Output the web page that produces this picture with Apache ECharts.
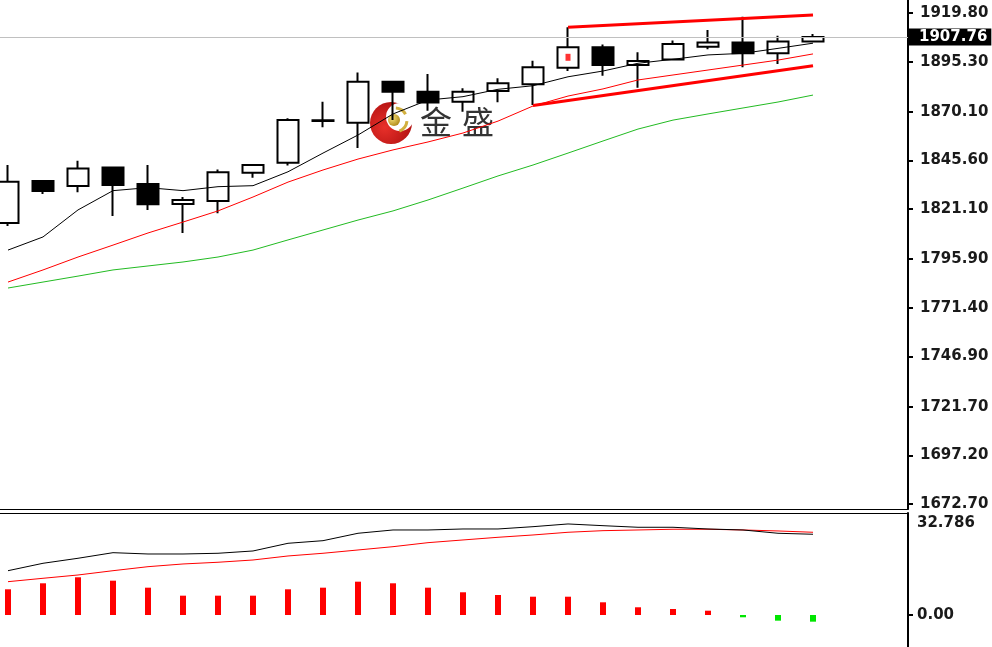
<!DOCTYPE html>
<html><head><meta charset="utf-8">
<script src="https://cdn.jsdelivr.net/npm/echarts@6.0.0/dist/echarts.min.js"></script>
<style>html,body{margin:0;padding:0;background:#fff}#c{width:992px;height:647px}</style>
</head><body><div id="c"></div>
<script>
// ---- data ----
const candleOpen  = [1814.1,1835.3,1832.7,1842.0,1833.7,1823.7,1825.2,1839.4,1844.5,1865.4,1864.6,1885.2,1880.2,1875.2,1880.5,1883.9,1892.3,1902.5,1893.6,1896.4,1902.8,1904.9,1899.5,1905.4];
const candleClose = [1834.9,1830.2,1841.6,1833.2,1823.5,1825.7,1839.6,1843.3,1865.9,1865.8,1885.2,1880.2,1874.7,1880.2,1884.4,1892.5,1902.5,1893.6,1895.6,1904.2,1904.9,1899.5,1905.4,1907.76];
const candleLow   = [1812.6,1828.7,1829.6,1817.6,1820.7,1809.1,1819.0,1836.9,1843.0,1862.3,1851.9,1865.9,1870.6,1870.1,1874.9,1873.5,1890.6,1888.2,1882.2,1896.0,1901.5,1892.5,1894.1,1905.3];
const candleHigh  = [1843.3,1835.5,1845.5,1842.2,1843.3,1827.2,1841.1,1843.5,1866.8,1875.2,1889.8,1885.4,1889.1,1881.9,1886.9,1895.8,1912.6,1904.0,1900.0,1905.9,1911.2,1917.9,1908.4,1909.2];
const maFast = [1800.5,1807.1,1820.7,1830.4,1831.9,1830.4,1832.4,1832.9,1839.9,1849.3,1858.4,1869.0,1876.0,1877.7,1881.4,1883.2,1887.7,1890.6,1894.5,1896.5,1898.7,1899.5,1902.0,1904.6];
const maMid  = [1784.4,1790.5,1797.0,1803.0,1809.1,1814.6,1820.2,1827.2,1834.7,1840.8,1846.3,1850.9,1854.9,1859.4,1865.4,1873.0,1878.0,1881.6,1886.1,1888.6,1891.1,1893.6,1896.1,1899.2];
const maSlow = [1781.4,1784.4,1787.4,1790.5,1792.5,1794.5,1797.0,1800.5,1805.6,1810.6,1815.6,1820.2,1825.7,1831.7,1837.8,1843.3,1849.3,1855.4,1861.4,1865.9,1869.0,1872.0,1875.0,1878.5];
const trendUpper = [[16,1912.6],[23,1918.8]];
const trendLower = [[15,1873.2],[23,1893.3]];
const markerPoints = [[16,1897.5]];
const priceTicks = [1919.8,1895.3,1870.1,1845.6,1821.1,1795.9,1771.4,1746.9,1721.7,1697.2,1672.7];
const macdHist = [8.26,10.19,12.12,11.03,8.78,6.21,6.21,6.21,8.26,8.78,10.71,10.19,8.78,7.30,6.43,5.88,5.88,4.08,2.48,1.93,1.38,-0.74,-1.83,-2.15];
const macdDif  = [14.24,16.62,18.23,20.03,19.61,19.61,19.84,20.58,23.05,23.89,26.27,27.33,27.33,27.65,27.65,28.39,29.26,28.71,28.20,28.20,27.65,27.33,26.27,25.95];
const macdDea  = [10.71,11.80,12.86,14.24,15.53,16.40,16.95,17.68,18.97,19.84,20.90,21.96,23.25,24.12,24.98,25.72,26.59,27.11,27.33,27.56,27.56,27.33,27.01,26.59];
const macdTicks = [0, 32.786];
const lastPrice = candleClose[candleClose.length - 1];

// ---- build ----
const idx = candleOpen.map((_, i) => i);
const candleData = idx.map(i => [i, candleOpen[i], candleClose[i], candleLow[i], candleHigh[i]]);
const pair = arr => arr.map((v, i) => [i, v]);

const chart = echarts.init(document.getElementById('c'), null, {renderer: 'canvas'});
const xCommon = {type: 'value', min: -0.2286, max: 25.714,
  axisLine: {show: true, onZero: false, lineStyle: {color: '#000', width: 1}},
  axisTick: {show: false}, axisLabel: {show: false}, splitLine: {show: false}};
const labelFont = {fontFamily: 'DejaVu Sans', fontWeight: 'bold', fontSize: 15, color: '#1a1a1a'};

chart.setOption({
  animation: false,
  backgroundColor: '#ffffff',
  grid: [
    {left: 0, top: 0, width: 908, height: 509},
    {left: 0, top: 513, width: 908, height: 134}
  ],
  xAxis: [
    Object.assign({}, xCommon, {gridIndex: 0, position: 'bottom'}),
    Object.assign({}, xCommon, {gridIndex: 1, position: 'top'})
  ],
  yAxis: [
    {type: 'value', gridIndex: 0, position: 'right', min: 1670.2, max: 1926.34,
     axisLine: {show: true, onZero: false, lineStyle: {color: '#000', width: 2}},
     axisTick: {show: true, length: 5, customValues: priceTicks, lineStyle: {color: '#000', width: 2}},
     axisLabel: Object.assign({customValues: priceTicks, margin: 12, formatter: v => Number(v).toFixed(2)}, labelFont),
     splitLine: {show: false}},
    {type: 'value', gridIndex: 1, position: 'right', min: -10.29, max: 32.786,
     axisLine: {show: true, onZero: false, lineStyle: {color: '#000', width: 2}},
     axisTick: {show: true, length: 5, customValues: [0], lineStyle: {color: '#000', width: 2}},
     axisLabel: Object.assign({customValues: macdTicks, margin: 9, lineHeight: 20,
       formatter: v => (Number(v) === 0 ? '0.00' : '\n' + Number(v).toFixed(3))}, labelFont),
     splitLine: {show: false}}
  ],
  graphic: [
    {type: 'circle', shape: {cx: 391, cy: 123, r: 21}, z: 0,
     style: {fill: new echarts.graphic.RadialGradient(0.35, 0.6, 0.8, [{offset: 0, color: '#e8302a'}, {offset: 1, color: '#a80c0c'}])}},
    {type: 'circle', shape: {cx: 400, cy: 117, r: 14}, z: 0, style: {fill: '#ffffff'}},
    {type: 'arc', shape: {cx: 395, cy: 120, r: 12, startAngle: -1.5, endAngle: -0.5}, z: 0, style: {stroke: '#d2b040', lineWidth: 3, fill: null}},
    {type: 'arc', shape: {cx: 395, cy: 120, r: 12, startAngle: 0.1, endAngle: 1.2}, z: 0, style: {stroke: '#d2b040', lineWidth: 3, fill: null}},
    {type: 'circle', shape: {cx: 394, cy: 120, r: 6}, z: 0,
     style: {fill: new echarts.graphic.RadialGradient(0.35, 0.35, 0.7, [{offset: 0, color: '#f6e27a'}, {offset: 1, color: '#b08a1a'}])}},
    {type: 'text', left: 420, top: 106, z: 0, style: {text: '金', font: '32px "Noto Sans CJK SC"', fill: '#333333'}},
    {type: 'text', left: 462, top: 106, z: 0, style: {text: '盛', font: '32px "Noto Sans CJK SC"', fill: '#333333'}}
  ],
  series: [
    {type: 'candlestick', xAxisIndex: 0, yAxisIndex: 0, data: candleData, barWidth: 21,
     itemStyle: {color: '#ffffff', color0: '#000000', borderColor: '#000000', borderColor0: '#000000', borderWidth: 2},
     markLine: {silent: true, symbol: ['none', 'none'], animation: false,
       lineStyle: {color: '#c0c0c0', width: 1, type: 'solid'},
       label: Object.assign({show: true, position: 'end', distance: 1, formatter: lastPrice.toFixed(2),
         backgroundColor: '#000000', padding: [1, 4, 1, 10]}, labelFont, {color: '#ffffff'}),
       data: [{yAxis: lastPrice}]}},
    {type: 'scatter', xAxisIndex: 0, yAxisIndex: 0, data: markerPoints, symbol: 'rect', symbolSize: [5, 7],
     itemStyle: {color: '#ff0000'}, z: 4},
    {type: 'line', xAxisIndex: 0, yAxisIndex: 0, data: pair(maSlow), showSymbol: false, lineStyle: {color: '#22bb22', width: 1}},
    {type: 'line', xAxisIndex: 0, yAxisIndex: 0, data: pair(maMid), showSymbol: false, lineStyle: {color: '#ff0000', width: 1}},
    {type: 'line', xAxisIndex: 0, yAxisIndex: 0, data: pair(maFast), showSymbol: false, lineStyle: {color: '#000000', width: 1}},
    {type: 'line', xAxisIndex: 0, yAxisIndex: 0, data: trendUpper, showSymbol: false, lineStyle: {color: '#ff0000', width: 3}},
    {type: 'line', xAxisIndex: 0, yAxisIndex: 0, data: trendLower, showSymbol: false, lineStyle: {color: '#ff0000', width: 3}},
    {type: 'bar', xAxisIndex: 1, yAxisIndex: 1, data: pair(macdHist), barWidth: 6,
     itemStyle: {color: p => (p.value[1] >= 0 ? '#ff0000' : '#00e600')}},
    {type: 'line', xAxisIndex: 1, yAxisIndex: 1, data: pair(macdDea), showSymbol: false, lineStyle: {color: '#ff0000', width: 1}},
    {type: 'line', xAxisIndex: 1, yAxisIndex: 1, data: pair(macdDif), showSymbol: false, lineStyle: {color: '#000000', width: 1}}
  ]
});
</script>
</body></html>
